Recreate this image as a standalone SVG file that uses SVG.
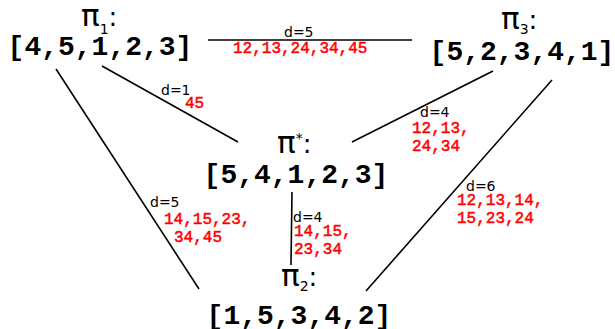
<svg xmlns="http://www.w3.org/2000/svg" width="615" height="329" viewBox="0 0 615 329">
<style>
.perm{font-family:"Liberation Mono","Courier New",monospace;font-weight:bold;font-size:28px;fill:#000;text-anchor:middle}
.pi{font-family:"DejaVu Sans",sans-serif;font-size:26px;fill:#000}
.pg{font-size:31px}
.sub{font-size:14px}
.d{font-family:"DejaVu Sans",Verdana,sans-serif;font-size:14px;fill:#000}
.r{font-family:"Liberation Mono","Courier New",monospace;font-size:16px;fill:#ff0000;stroke:#ff0000;stroke-width:0.5}
.e{stroke:#000;stroke-width:1.6;fill:none}
</style>
<rect width="615" height="329" fill="#fff"/>
<g id="connectors">
<line class="e" x1="208" y1="40" x2="412" y2="40"/>
<line class="e" x1="102" y1="66" x2="238" y2="142"/>
<line class="e" x1="493" y1="71" x2="352" y2="142"/>
<line class="e" x1="552" y1="80" x2="366" y2="291"/>
<line class="e" x1="56" y1="69" x2="199" y2="289"/>
<line class="e" x1="292" y1="192" x2="291" y2="265"/>
<text class="d" x="284" y="37">d=5</text>
<text class="r" x="233" y="53">12,13,24,34,45</text>
<text class="d" x="161" y="95">d=1</text>
<text class="r" x="185" y="108">45</text>
<text class="d" x="420" y="117">d=4</text>
<text class="r" x="412" y="133">12,13,</text>
<text class="r" x="412" y="151">24,34</text>
<text class="d" x="466" y="191">d=6</text>
<text class="r" x="457" y="205">12,13,14,</text>
<text class="r" x="457" y="223">15,23,24</text>
<text class="d" x="150" y="207">d=5</text>
<text class="r" x="164" y="224">14,15,23,</text>
<text class="r" x="174" y="242">34,45</text>
<text class="d" x="293" y="222">d=4</text>
<text class="r" x="294" y="236">14,15,</text>
<text class="r" x="294" y="254">23,34</text>
</g>
<g id="pi1">
<text class="pi" x="81" y="26"><tspan class="pg">π</tspan><tspan class="sub" dy="8">1</tspan><tspan dy="-8">:</tspan></text>
<text class="perm" x="100" y="55">[4,5,1,2,3]</text>
</g>
<g id="pi3">
<text class="pi" x="501" y="29"><tspan class="pg">π</tspan><tspan class="sub" dy="5">3</tspan><tspan dy="-5">:</tspan></text>
<text class="perm" x="522" y="60">[5,2,3,4,1]</text>
</g>
<g id="pistar">
<text class="pi" x="277" y="153"><tspan class="pg">π</tspan><tspan class="sub" dy="-10">*</tspan><tspan dy="10">:</tspan></text>
<text class="perm" x="296" y="183">[5,4,1,2,3]</text>
</g>
<g id="pi2">
<text class="pi" x="281" y="286"><tspan class="pg">π</tspan><tspan class="sub" dy="5">2</tspan><tspan dy="-5">:</tspan></text>
<text class="perm" x="299" y="324">[1,5,3,4,2]</text>
</g>
</svg>
